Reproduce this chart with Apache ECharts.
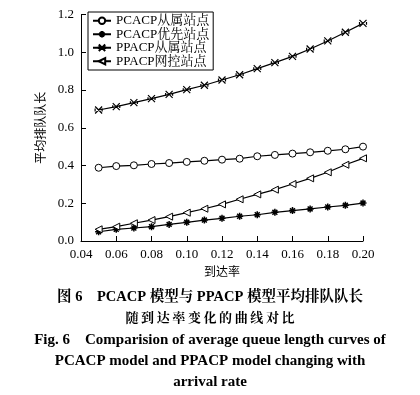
<!DOCTYPE html>
<html><head><meta charset="utf-8">
<script src="https://cdn.jsdelivr.net/npm/echarts@6/dist/echarts.min.js"></script>
<style>html,body{margin:0;padding:0;background:#fff}#c{width:420px;height:395px}</style>
</head><body><div id="c"></div>
<script>
const xValues = [0.05,0.06,0.07,0.08,0.09,0.10,0.11,0.12,0.13,0.14,0.15,0.16,0.17,0.18,0.19,0.20];
const pcacpSlave = [0.388,0.397,0.401,0.408,0.413,0.419,0.425,0.431,0.436,0.449,0.456,0.463,0.470,0.478,0.486,0.500];
const pcacpPriority = [0.049,0.062,0.069,0.076,0.088,0.099,0.111,0.120,0.131,0.139,0.152,0.161,0.170,0.180,0.189,0.201];
const ppacpSlave = [0.694,0.712,0.733,0.754,0.777,0.802,0.825,0.853,0.881,0.913,0.945,0.978,1.017,1.060,1.106,1.153];
const ppacpControl = [0.062,0.076,0.094,0.111,0.129,0.150,0.171,0.194,0.221,0.247,0.272,0.302,0.332,0.364,0.404,0.438];
const seriesNames = ['PCACP从属站点','PCACP优先站点','PPACP从属站点','PPACP网控站点'];
const captionLines = [
  '图 6　PCACP 模型与 PPACP 模型平均排队队长',
  '随\u2009到\u2009达\u2009率\u2009变\u2009化\u2009的\u2009曲\u2009线\u2009对\u2009比',
  'Fig. 6　Comparision of average queue length curves of',
  'PCACP model and PPACP model changing with',
  'arrival rate'
];

const serif = '"Liberation Serif","Times New Roman","Noto Serif CJK SC","Noto Sans CJK SC",serif';
const pair = arr => xValues.map((x,i)=>[x,arr[i]]);
const asterisk = 'path://M5,0L5,10M0,5L10,5M1.5,1.5L8.5,8.5M1.5,8.5L8.5,1.5';
const xmark = 'path://M0,0L10,10M0,10L10,0M0,3L0,7M10,3L10,7';
function mk(name, data, symbol, opts){
  return Object.assign({
    name, type:'line', data:pair(data), symbol, symbolSize:7,
    lineStyle:{color:'#000',width:1.2},
    itemStyle:{color:'#fff',borderColor:'#000',borderWidth:1},
    animation:false
  }, opts||{});
}
const chart = echarts.init(document.getElementById('c'));
chart.setOption({
  backgroundColor:'#fff',
  animation:false,
  grid:{left:81,right:57,top:14.5,bottom:154},
  legend:{
    orient:'vertical', left:88, top:12, borderColor:'#000', borderWidth:1,
    padding:[2,4,2,4], itemGap:0, itemWidth:18, itemHeight:8,
    textStyle:{fontFamily:serif,fontSize:13,color:'#000',lineHeight:13.5},
    data:seriesNames
  },
  xAxis:{
    type:'value', min:0.04, max:0.20, interval:0.02,
    name:'到达率', nameLocation:'middle', nameGap:23,
    nameTextStyle:{fontFamily:'"Noto Sans CJK SC"',fontSize:12,color:'#000'},
    axisLine:{lineStyle:{color:'#000',width:1}},
    axisTick:{inside:true,length:5,lineStyle:{color:'#000'}},
    axisLabel:{fontFamily:serif,fontSize:13,color:'#000',margin:7,formatter:v=>v.toFixed(2)},
    splitLine:{show:false}
  },
  yAxis:{
    type:'value', min:0, max:1.2, interval:0.2,
    name:'平均排队队长', nameLocation:'middle', nameGap:31, nameRotate:90,
    nameTextStyle:{fontFamily:'"Noto Sans CJK SC"',fontSize:12,color:'#000'},
    axisLine:{show:true,lineStyle:{color:'#000',width:1}},
    axisTick:{show:true,inside:true,length:5,lineStyle:{color:'#000'}},
    axisLabel:{fontFamily:serif,fontSize:13,color:'#000',margin:7,formatter:v=>v.toFixed(1)},
    splitLine:{show:false}
  },
  series:[
    mk(seriesNames[0], pcacpSlave, 'circle'),
    mk(seriesNames[1], pcacpPriority, asterisk, {itemStyle:{color:'#000',borderColor:'#000',borderWidth:1.5}}),
    mk(seriesNames[2], ppacpSlave, xmark, {itemStyle:{color:'#000',borderColor:'#000',borderWidth:1.2}}),
    mk(seriesNames[3], ppacpControl, 'triangle', {symbolRotate:90})
  ],
  graphic: captionLines.map((t,i)=>({
    type:'text', left:'center', top:[290,312,333,354,375][i],
    style:{text:t, fill:'#000', font:'bold '+(i===0?'14.5px':(i===1?'13px':'15px'))+' '+serif, textAlign:'center'}
  }))
});
</script></body></html>
